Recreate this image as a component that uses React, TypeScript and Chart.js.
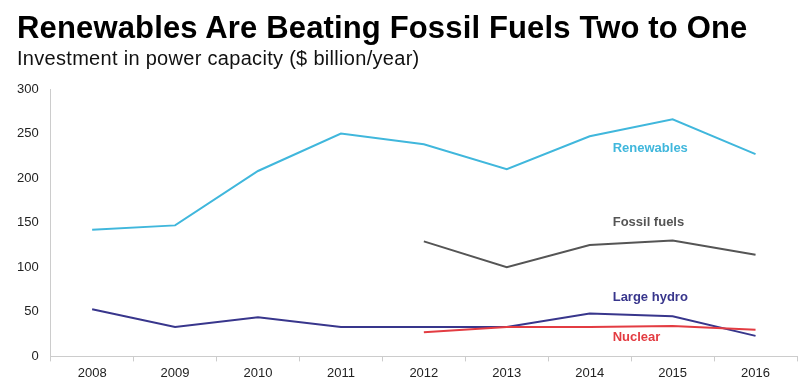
import React, { useEffect, useRef } from "react";
import { Chart, registerables } from "chart.js";

Chart.register(...registerables);

const years = ["2008", "2009", "2010", "2011", "2012", "2013", "2014", "2015", "2016"];
const renewables = [142, 147, 208, 250, 238, 210, 247, 266, 227];
const fossilFuels = [null, null, null, null, 129, 100, 125, 130, 114];
const largeHydro = [53, 33, 44, 33, 33, 33, 48, 45, 23];
const nuclear = [null, null, null, null, 27, 33, 33, 34, 30];
const yTicks = [0, 50, 100, 150, 200, 250, 300];

const COLORS = {
  renewables: "#40b7dc",
  fossil: "#555555",
  hydro: "#38368c",
  nuclear: "#e33c42",
};

const seriesLabels = [
  { text: "Renewables", color: COLORS.renewables, y: 233 },
  { text: "Fossil fuels", color: COLORS.fossil, y: 150 },
  { text: "Large hydro", color: COLORS.hydro, y: 66 },
  { text: "Nuclear", color: COLORS.nuclear, y: 21 },
];

const labelPlugin = {
  id: "seriesLabels",
  afterDatasetsDraw(chart: any) {
    const { ctx, scales } = chart;
    const x = scales.x.getPixelForValue(6) + 23;
    ctx.save();
    ctx.font = "bold 13px 'Liberation Sans', Arial, sans-serif";
    ctx.textBaseline = "middle";
    ctx.textAlign = "left";
    for (const l of seriesLabels) {
      ctx.fillStyle = l.color;
      ctx.fillText(l.text, x, scales.y.getPixelForValue(l.y));
    }
    ctx.restore();
  },
};

export default function App() {
  const ref = useRef<HTMLCanvasElement>(null);
  useEffect(() => {
    if (!ref.current) return;
    const mk = (label: string, data: any[], color: string) => ({
      label,
      data,
      borderColor: color,
      backgroundColor: color,
      borderWidth: 2,
      pointRadius: 0,
      tension: 0,
      spanGaps: false,
    });
    const chart = new Chart(ref.current, {
      type: "line",
      data: {
        labels: years,
        datasets: [
          mk("Renewables", renewables, COLORS.renewables),
          mk("Fossil fuels", fossilFuels, COLORS.fossil),
          mk("Nuclear", nuclear, COLORS.nuclear),
          mk("Large hydro", largeHydro, COLORS.hydro),
        ],
      },
      options: {
        animation: false,
        responsive: false,
        maintainAspectRatio: false,
        layout: { padding: { top: 89, right: 3, left: 13, bottom: 5 } },
        plugins: { legend: { display: false }, tooltip: { enabled: false }, title: { display: false } },
        scales: {
          x: {
            offset: true,
            border: { display: true, color: "#cccccc", width: 1 },
            grid: { display: true, drawOnChartArea: false, offset: true, tickLength: 5, color: "#cccccc" },
            ticks: {
              color: "#222222",
              font: { family: "'Liberation Sans', Arial, sans-serif", size: 13 },
              padding: 4,
              maxRotation: 0,
            },
          },
          y: {
            min: 0,
            max: 300,
            afterBuildTicks: (axis: any) => {
              axis.ticks = yTicks.map((v) => ({ value: v }));
            },
            border: { display: true, color: "#cccccc", width: 1 },
            grid: { display: false },
            ticks: {
              color: "#222222",
              font: { family: "'Liberation Sans', Arial, sans-serif", size: 13 },
              padding: 4,
            },
          },
        },
      },
      plugins: [labelPlugin],
    });
    return () => chart.destroy();
  }, []);
  return (
    <div style={{ position: "absolute", left: 0, top: 0, width: 800, height: 390, background: "#fff", overflow: "hidden" }}>
      <canvas ref={ref} width={800} height={390} style={{ position: "absolute", left: 0, top: 0 }} />
      <div
        style={{
          position: "absolute",
          left: 17,
          top: 9,
          fontFamily: "'Liberation Sans', Arial, sans-serif",
          fontWeight: "bold",
          fontSize: 31,
          letterSpacing: 0.15,
          color: "#000",
          whiteSpace: "nowrap",
          lineHeight: "38px",
        }}
      >
        Renewables Are Beating Fossil Fuels Two to One
      </div>
      <div
        style={{
          position: "absolute",
          left: 17,
          top: 45,
          fontFamily: "'Liberation Sans', Arial, sans-serif",
          fontSize: 20,
          letterSpacing: 0.3,
          color: "#111",
          whiteSpace: "nowrap",
          lineHeight: "26px",
        }}
      >
        Investment in power capacity ($ billion/year)
      </div>
    </div>
  );
}
